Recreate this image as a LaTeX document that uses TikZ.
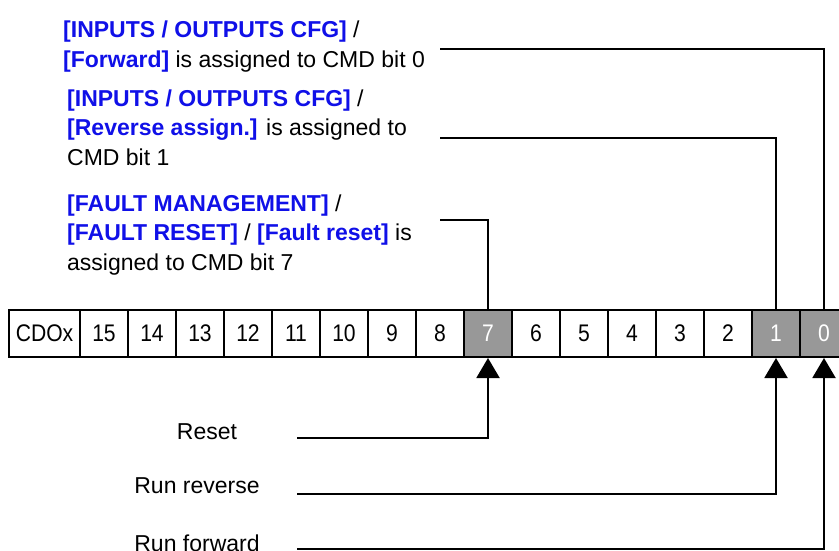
\documentclass[tikz,border=0pt]{standalone}
\usepackage{fontspec}
\setmainfont{Liberation Sans}
\newfontfamily\cellfont[FakeStretch=0.88]{Liberation Sans}
\usepackage{xcolor}
\usepackage{tikz}
\usetikzlibrary{positioning, calc, arrows.meta}
\definecolor{menublue}{RGB}{16,16,232}
\definecolor{setgray}{RGB}{152,152,152}
\newcommand{\mnu}[1]{\textcolor{menublue}{\textbf{#1}}}

\begin{document}
\begin{tikzpicture}[x=1pt, y=-1pt]
		
		\tikzstyle{bit}=[rectangle, draw=black, line width=2pt, minimum width=48pt, minimum height=47pt, inner sep=0pt, fill=white, font=\cellfont\fontsize{24}{26}\selectfont]
		\tikzstyle{bitset}=[bit, fill=setgray, text=white]
		\tikzstyle{note}=[anchor=base west, align=left, inner sep=0pt, font=\fontsize{23}{29.5}\selectfont]
		\tikzstyle{cmd}=[anchor=base, inner sep=0pt, font=\fontsize{23}{28}\selectfont]
		\tikzstyle{wire}=[line width=2pt]
		\tikzstyle{arr}=[line width=2pt, -{Triangle[width=23pt, length=20pt]}]
		
		\useasboundingbox (0,0) rectangle (839,550);
		\fill [white] (0,0) rectangle (839,550);
		
		%% register
		\node (cdox) at (44.5,333.5) [bit, minimum width=71pt] {CDOx};
		\foreach \n/\s [count=\i from 0] in {15/bit,14/bit,13/bit,12/bit,11/bit,10/bit,9/bit,8/bit,7/bitset,6/bit,5/bit,4/bit,3/bit,2/bit,1/bitset,0/bitset}
		\node (c\n) at ({104+48*\i},333.5) [\s] {\n};
		
		%% parameter notes (anchored on their last line)
		\node (nfwd) at (63,67) [note] {\mnu{[INPUTS / OUTPUTS CFG]} /\\\mnu{[Forward]} is assigned to CMD bit 0};
		\node (nrev) at (67,165) [note] {\mnu{[INPUTS / OUTPUTS CFG]} /\\\mnu{[Reverse assign.]} is assigned to\\CMD bit 1};
		\node (nrst) at (67,270) [note] {\mnu{[FAULT MANAGEMENT]} /\\\mnu{[FAULT RESET]} / \mnu{[Fault reset]} is\\assigned to CMD bit 7};
		
		\coordinate (ffwd) at (440,49);
		\coordinate (frev) at (440,138);
		\coordinate (frst) at (440,220);
		
		\draw [wire] (ffwd) -| (c0.north);
		\draw [wire] (frev) -| (c1.north);
		\draw [wire] (frst) -| (c7.north);
		
		%% commands
		\node (lrst) at (207,439) [cmd] {Reset};
		\node (lrev) at (197,493) [cmd] {Run reverse};
		\node (lfwd) at (197,551) [cmd] {Run forward};
		
		\coordinate (trst) at (297,438);
		\coordinate (trev) at (297,494);
		\coordinate (tfwd) at (297,549);
		
		\draw [arr] (trst) -| (c7.south);
		\draw [arr] (trev) -| (c1.south);
		\draw [arr] (tfwd) -| (c0.south);
		
\end{tikzpicture}
\end{document}
